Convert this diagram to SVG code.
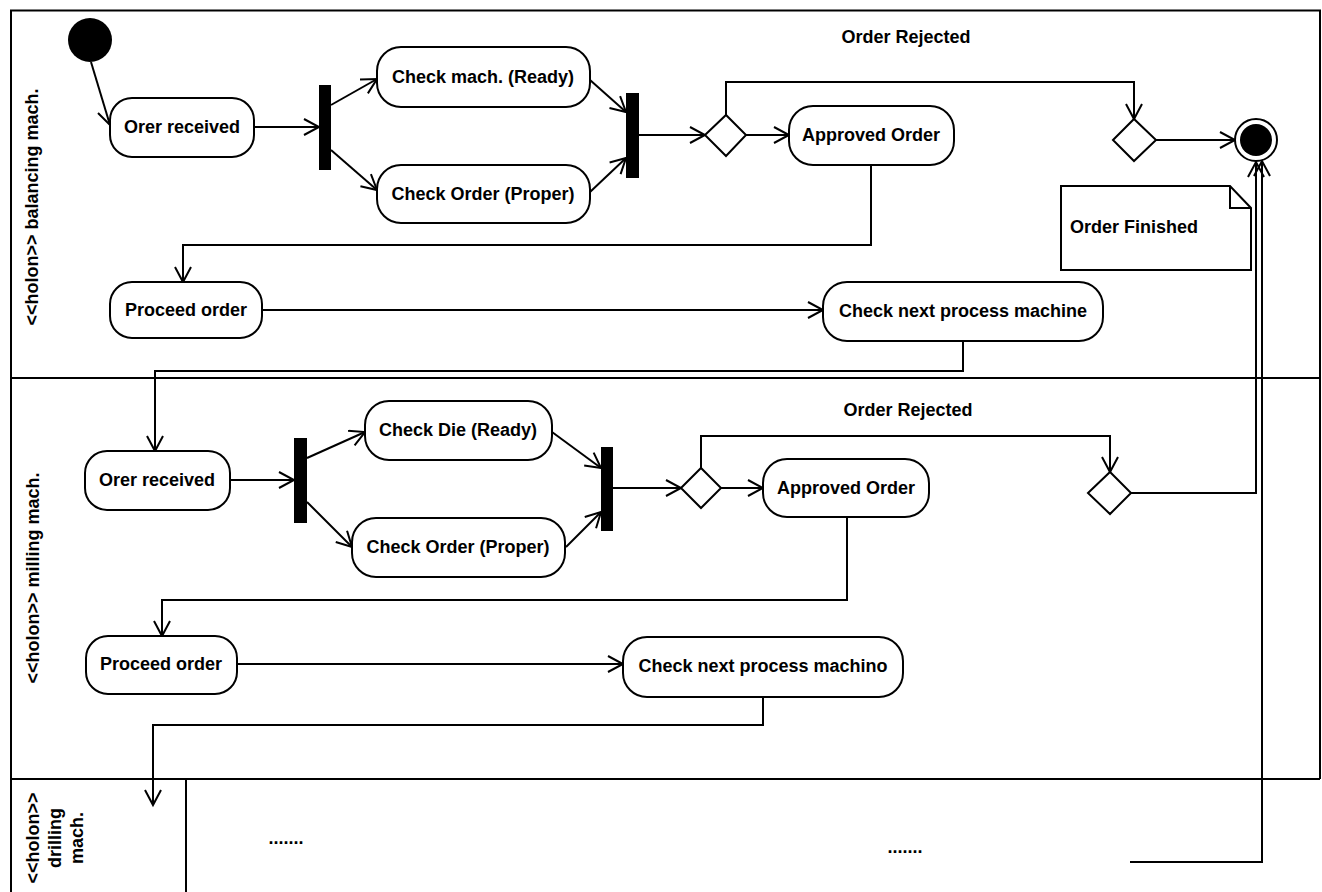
<svg xmlns="http://www.w3.org/2000/svg" width="1322" height="892" viewBox="0 0 1322 892">
<style>
.n{fill:#fff;stroke:#000;stroke-width:2}
.t{font-family:"Liberation Sans",Arial,sans-serif;font-weight:bold;font-size:18px;fill:#000;text-anchor:middle;dominant-baseline:central}
.c{fill:none;stroke:#000;stroke-width:2;marker-end:url(#a)}
.p{fill:none;stroke:#000;stroke-width:2}
.bar{fill:#000}
.lane{fill:none;stroke:#000;stroke-width:2}
</style>
<defs>
<marker id="a" markerUnits="userSpaceOnUse" markerWidth="20" markerHeight="20" refX="16" refY="9" orient="auto">
<path d="M1,1 L16,9 L1,17" fill="none" stroke="#000" stroke-width="2"/>
</marker>
</defs>
<rect width="1322" height="892" fill="#fff"/>
<g id="lanes">
<path class="lane" d="M11,892 L11,10.5 L1320,10.5 L1320,779"/>
<line class="lane" x1="11" y1="378" x2="1320" y2="378"/>
<line class="lane" x1="11" y1="779" x2="1320" y2="779"/>
<line class="lane" x1="186" y1="779" x2="186" y2="892"/>
<text class="t" transform="translate(32 207) rotate(-90)">&lt;&lt;holon&gt;&gt; balancing mach.</text>
<text class="t" transform="translate(33 578) rotate(-90)">&lt;&lt;holon&gt;&gt; milling mach.</text>
<text class="t" transform="translate(33 838) rotate(-90)">&lt;&lt;holon&gt;&gt;</text>
<text class="t" transform="translate(55 838) rotate(-90)">drilling</text>
<text class="t" transform="translate(77 838) rotate(-90)">mach.</text>
</g>
<g id="connectors">
<path class="c" d="M91,62 L110,125"/>
<path class="c" d="M254,127 L319,127"/>
<path class="c" d="M331,105 L377,79"/>
<path class="c" d="M331,150 L377,190"/>
<path class="c" d="M590,80 L626,112"/>
<path class="c" d="M590,192 L626,158"/>
<path class="c" d="M639,135 L705,135"/>
<path class="c" d="M746,135 L789,135"/>
<path class="c" d="M726,115 L726,82 L1134,82 L1134,119"/>
<path class="c" d="M1156,140 L1235,140"/>
<path class="c" d="M871,165 L871,245 L183,245 L183,282"/>
<path class="c" d="M262,310 L823,310"/>
<path class="c" d="M963,341 L963,371 L155,371 L155,451"/>
<path class="c" d="M230,480 L294,480"/>
<path class="c" d="M307,458 L365,432"/>
<path class="c" d="M307,502 L352,547"/>
<path class="c" d="M552,432 L601,468"/>
<path class="c" d="M566,547 L601,512"/>
<path class="c" d="M613,488 L681,488"/>
<path class="c" d="M721,488 L763,488"/>
<path class="c" d="M701,468 L701,436 L1110,436 L1110,472"/>
<path class="c" d="M1131,493 L1256,493 L1256,162"/>
<path class="c" d="M847,517 L847,600 L162,600 L162,636"/>
<path class="c" d="M237,664 L623,664"/>
<path class="c" d="M763,697 L763,725 L153,725 L153,805"/>
<path class="c" d="M1130,862 L1262,862 L1262,161"/>
</g>
<g id="start1"><circle cx="90" cy="40" r="22" fill="#000"/></g>
<g id="orer1"><rect class="n" x="110" y="98" width="144" height="59" rx="22"/><text class="t" x="182" y="127">Orer received</text></g>
<g id="fork1"><rect class="bar" x="319" y="85" width="12" height="85"/></g>
<g id="checkmach"><rect class="n" x="377" y="47" width="213" height="60" rx="24"/><text class="t" x="483" y="77">Check mach. (Ready)</text></g>
<g id="checkorder1"><rect class="n" x="377" y="165" width="213" height="58" rx="24"/><text class="t" x="483" y="194">Check Order (Proper)</text></g>
<g id="join1"><rect class="bar" x="626" y="93" width="13" height="85"/></g>
<g id="dec1"><path class="n" d="M705,135 L726,115 L746,135 L726,156 Z"/></g>
<g id="approved1"><rect class="n" x="789" y="106" width="165" height="59" rx="24"/><text class="t" x="871" y="135">Approved Order</text></g>
<g id="rej1"><text class="t" x="906" y="37">Order Rejected</text></g>
<g id="dec2"><path class="n" d="M1113,140 L1134,119 L1156,140 L1134,161 Z"/></g>
<g id="final"><circle cx="1256" cy="140" r="21" fill="#fff" stroke="#000" stroke-width="2"/><circle cx="1256" cy="140" r="16" fill="#000"/></g>
<g id="note"><path class="n" d="M1061,186 L1230,186 L1251,208 L1251,270 L1061,270 Z"/><path class="p" d="M1230,186 L1230,208 L1251,208"/><text class="t" x="1070" y="227" style="text-anchor:start">Order Finished</text></g>
<g id="proceed1"><rect class="n" x="110" y="282" width="152" height="56" rx="22"/><text class="t" x="186" y="310">Proceed order</text></g>
<g id="next1"><rect class="n" x="823" y="282" width="280" height="59" rx="24"/><text class="t" x="963" y="311">Check next process machine</text></g>
<g id="orer2"><rect class="n" x="85" y="451" width="145" height="59" rx="22"/><text class="t" x="157" y="480">Orer received</text></g>
<g id="fork2"><rect class="bar" x="294" y="438" width="13" height="85"/></g>
<g id="checkdie"><rect class="n" x="365" y="401" width="187" height="59" rx="24"/><text class="t" x="458" y="430">Check Die (Ready)</text></g>
<g id="checkorder2"><rect class="n" x="352" y="518" width="213" height="59" rx="24"/><text class="t" x="458" y="547">Check Order (Proper)</text></g>
<g id="join2"><rect class="bar" x="601" y="447" width="12" height="84"/></g>
<g id="dec3"><path class="n" d="M681,488 L701,468 L721,488 L701,508 Z"/></g>
<g id="approved2"><rect class="n" x="763" y="459" width="166" height="58" rx="24"/><text class="t" x="846" y="488">Approved Order</text></g>
<g id="rej2"><text class="t" x="908" y="410">Order Rejected</text></g>
<g id="dec4"><path class="n" d="M1088,493 L1110,472 L1131,493 L1110,514 Z"/></g>
<g id="proceed2"><rect class="n" x="86" y="636" width="151" height="58" rx="22"/><text class="t" x="161" y="664">Proceed order</text></g>
<g id="next2"><rect class="n" x="623" y="637" width="280" height="60" rx="24"/><text class="t" x="763" y="666">Check next process machino</text></g>
<g id="dots"><text class="t" x="286" y="838">.......</text><text class="t" x="905" y="847">.......</text></g>
</svg>
